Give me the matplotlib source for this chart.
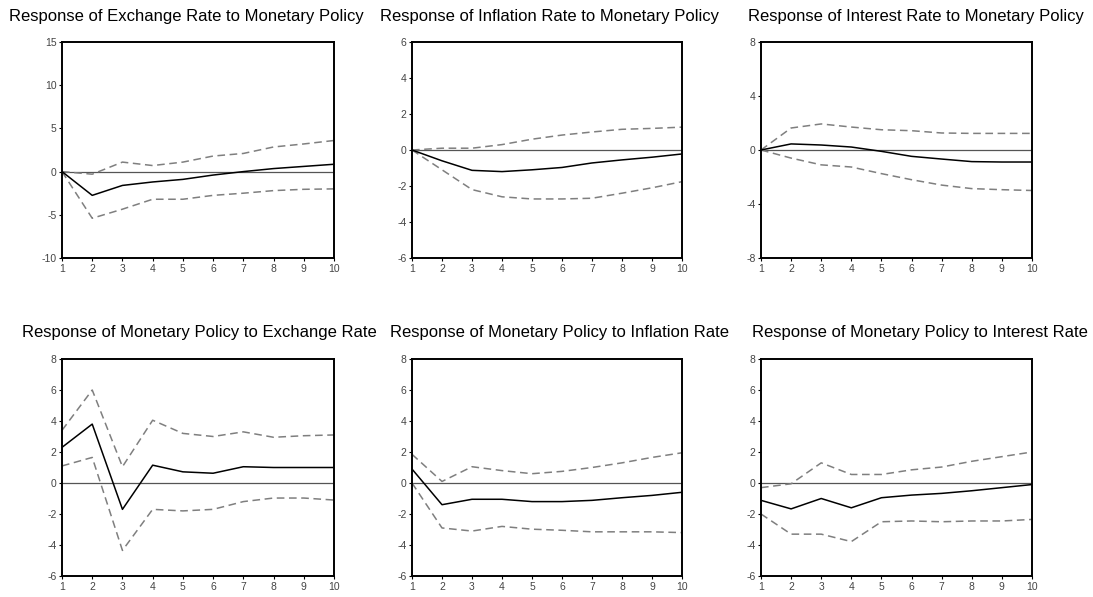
import numpy as np
import matplotlib.pyplot as plt

plt.rcParams['font.family'] = ['Liberation Sans', 'DejaVu Sans']
plt.rcParams['axes.unicode_minus'] = False

periods = np.arange(1, 11)

titles = [
    "Response of Exchange Rate to Monetary Policy",
    "Response of Inflation Rate to Monetary Policy",
    "Response of Interest Rate to Monetary Policy",
    "Response of Monetary Policy to Exchange Rate",
    "Response of Monetary Policy to Inflation Rate",
    "Response of Monetary Policy to Interest Rate",
]

# impulse responses (solid) with +/- 2 S.E. bands (dashed)
resp = [
    [0.0, -2.75, -1.6, -1.2, -0.9, -0.4, 0.0, 0.35, 0.6, 0.85],
    [0.0, -0.6, -1.13, -1.2, -1.1, -0.97, -0.72, -0.55, -0.4, -0.22],
    [0.0, 0.45, 0.37, 0.22, -0.1, -0.47, -0.67, -0.86, -0.89, -0.89],
    [2.3, 3.8, -1.7, 1.15, 0.72, 0.63, 1.05, 1.0, 1.0, 1.0],
    [0.9, -1.4, -1.05, -1.05, -1.2, -1.2, -1.12, -0.95, -0.8, -0.6],
    [-1.12, -1.67, -1.0, -1.6, -0.95, -0.78, -0.67, -0.5, -0.3, -0.1],
]
upper = [
    [0.0, -0.3, 1.1, 0.7, 1.1, 1.8, 2.1, 2.85, 3.2, 3.6],
    [0.0, 0.1, 0.1, 0.3, 0.6, 0.83, 1.0, 1.15, 1.2, 1.27],
    [0.0, 1.63, 1.93, 1.7, 1.5, 1.43, 1.26, 1.23, 1.23, 1.23],
    [3.4, 6.0, 1.05, 4.05, 3.2, 3.0, 3.3, 2.95, 3.05, 3.1],
    [1.85, 0.1, 1.05, 0.8, 0.6, 0.75, 1.0, 1.3, 1.65, 1.95],
    [-0.3, -0.05, 1.3, 0.55, 0.55, 0.85, 1.03, 1.4, 1.7, 2.0],
]
lower = [
    [0.0, -5.4, -4.35, -3.2, -3.2, -2.75, -2.5, -2.2, -2.05, -2.0],
    [0.0, -1.1, -2.2, -2.6, -2.72, -2.72, -2.68, -2.4, -2.1, -1.76],
    [0.0, -0.6, -1.1, -1.26, -1.75, -2.2, -2.6, -2.86, -2.94, -3.0],
    [1.1, 1.65, -4.35, -1.7, -1.8, -1.7, -1.2, -0.97, -0.97, -1.1],
    [0.0, -2.9, -3.1, -2.8, -2.98, -3.05, -3.15, -3.15, -3.15, -3.2],
    [-2.0, -3.3, -3.3, -3.78, -2.5, -2.45, -2.5, -2.45, -2.45, -2.35],
]

ylims = [(-10, 15), (-6, 6), (-8, 8), (-6, 8), (-6, 8), (-6, 8)]
yticks = [
    [-10, -5, 0, 5, 10, 15],
    [-6, -4, -2, 0, 2, 4, 6],
    [-8, -4, 0, 4, 8],
    [-6, -4, -2, 0, 2, 4, 6, 8],
    [-6, -4, -2, 0, 2, 4, 6, 8],
    [-6, -4, -2, 0, 2, 4, 6, 8],
]

W, H = 1093, 597
fig = plt.figure(figsize=(W / 100, H / 100), dpi=100)

# axes boxes in pixels: left, top, right, bottom
boxes = [
    (62, 42, 334, 258), (412, 42, 682, 258), (761, 42, 1032, 258),
    (62, 359, 334, 576), (412, 359, 682, 576), (761, 359, 1032, 576),
]
title_pos = [(186, 16), (549, 16), (916, 16), (199, 332), (560, 332), (920, 332)]

for i in range(6):
    l, t, r, b = boxes[i]
    ax = fig.add_axes([l / W, 1 - b / H, (r - l) / W, (b - t) / H])
    ax.axhline(0, color='#555555', lw=0.9)
    ax.plot(periods, upper[i], color='#7f7f7f', lw=1.1, dashes=(5, 3))
    ax.plot(periods, lower[i], color='#7f7f7f', lw=1.1, dashes=(5, 3))
    ax.plot(periods, resp[i], color='black', lw=1.1)
    ax.set_xlim(1, 10)
    ax.set_ylim(*ylims[i])
    ax.set_xticks(periods)
    ax.set_yticks(yticks[i])
    ax.tick_params(length=2.5, width=0.8, labelsize=7.5, labelcolor='#444444', pad=1.5)
    for s in ax.spines.values():
        s.set_linewidth(1.4)
    fig.text(title_pos[i][0] / W, 1 - title_pos[i][1] / H, titles[i],
             ha='center', va='center', fontsize=12)

fig.savefig('out.png', dpi=100)
